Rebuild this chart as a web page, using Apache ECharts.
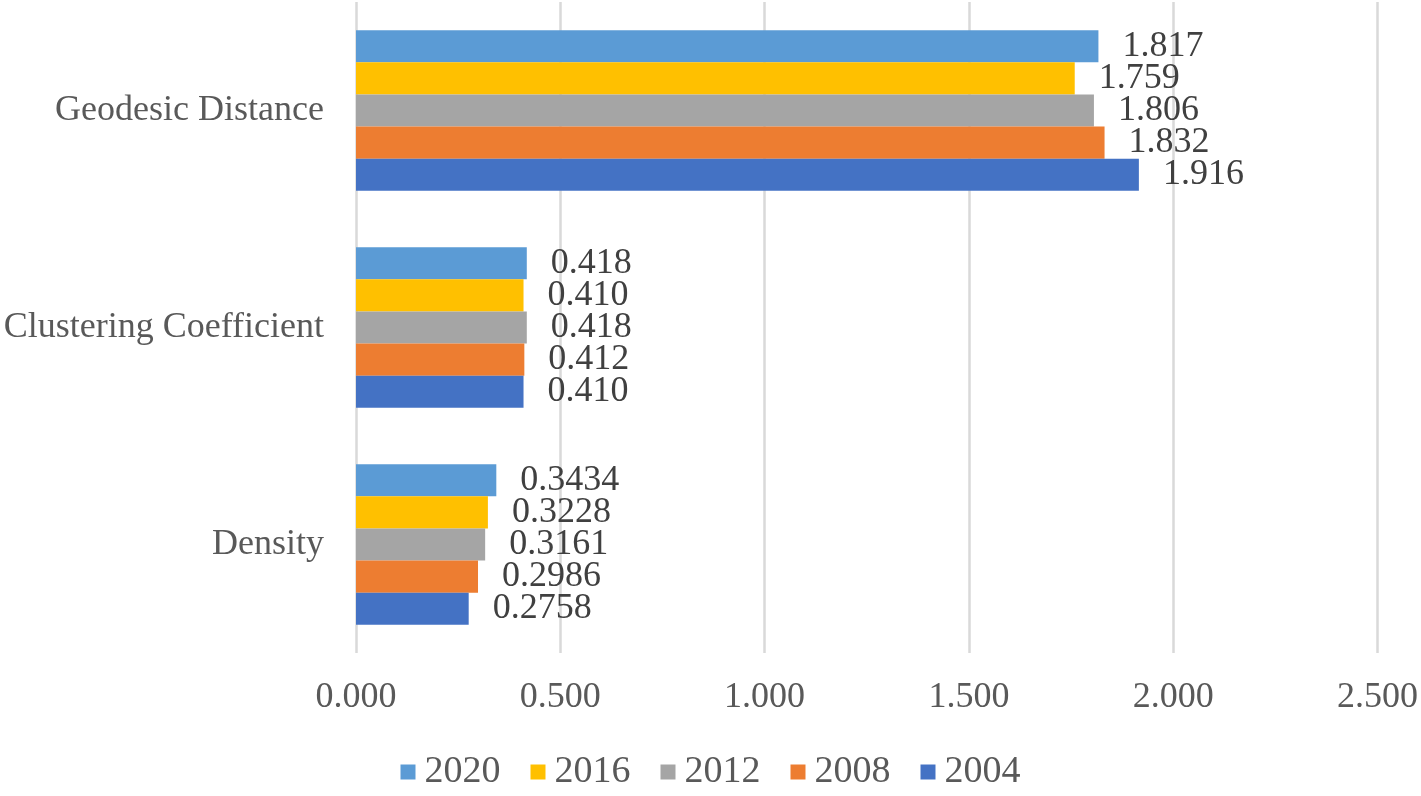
<!DOCTYPE html>
<html>
<head>
<meta charset="utf-8">
<script src="https://cdn.jsdelivr.net/npm/echarts@6/dist/echarts.min.js"></script>
<style>
html,body{margin:0;padding:0;background:#fff;}
#chart{width:1421px;height:796px;}
</style>
</head>
<body>
<div id="chart"></div>
<script>
// Categories (bottom to top on the y axis)
const categories = ['Density', 'Clustering Coefficient', 'Geodesic Distance'];
// Series values per year, in category order
const years = ['2020', '2016', '2012', '2008', '2004'];
const v2020 = [0.3434, 0.418, 1.817];
const v2016 = [0.3228, 0.410, 1.759];
const v2012 = [0.3161, 0.418, 1.806];
const v2008 = [0.2986, 0.412, 1.832];
const v2004 = [0.2758, 0.410, 1.916];
// Decimal places shown in data labels, per category
const labelDecimals = [4, 3, 3];
// X axis ticks
const xMin = 0, xMax = 2.5, xStep = 0.5;

const colors = ['#5B9BD5', '#FFC000', '#A5A5A5', '#ED7D31', '#4472C4'];
const seriesValues = [v2020, v2016, v2012, v2008, v2004];
const FONT = "'Liberation Serif', 'Times New Roman', serif";

const chart = echarts.init(document.getElementById('chart'));
chart.setOption({
  animation: false,
  textStyle: { fontFamily: FONT },
  grid: { left: 356, right: 38, top: 2, bottom: 143, containLabel: false },
  legend: {
    data: years,
    bottom: 0,
    left: 'center',
    itemWidth: 15,
    itemHeight: 15,
    itemGap: 30,
    icon: 'rect',
    textStyle: { fontFamily: FONT, fontSize: 38, color: '#595959', padding: [0, 0, 0, 4] }
  },
  xAxis: {
    type: 'value',
    min: xMin, max: xMax, interval: xStep,
    axisLine: { show: false },
    axisTick: { show: false },
    splitLine: { show: true, lineStyle: { color: '#D9D9D9', width: 2.5 } },
    axisLabel: {
      margin: 27,
      fontFamily: FONT, fontSize: 36, color: '#595959',
      formatter: v => v.toFixed(3)
    }
  },
  yAxis: {
    type: 'category',
    data: categories,
    axisLine: { show: false },
    axisTick: { show: false },
    axisLabel: { margin: 32, fontFamily: FONT, fontSize: 36, color: '#595959' }
  },
  series: years.map((y, i) => ({
    name: y,
    type: 'bar',
    data: seriesValues[i],
    barGap: '0%',
    barCategoryGap: '26%',
    itemStyle: { color: colors[i] },
    label: {
      show: true,
      position: 'right',
      distance: 24,
      fontFamily: FONT,
      fontSize: 36,
      color: '#404040',
      formatter: p => p.value.toFixed(labelDecimals[p.dataIndex])
    }
  }))
});
</script>
</body>
</html>
